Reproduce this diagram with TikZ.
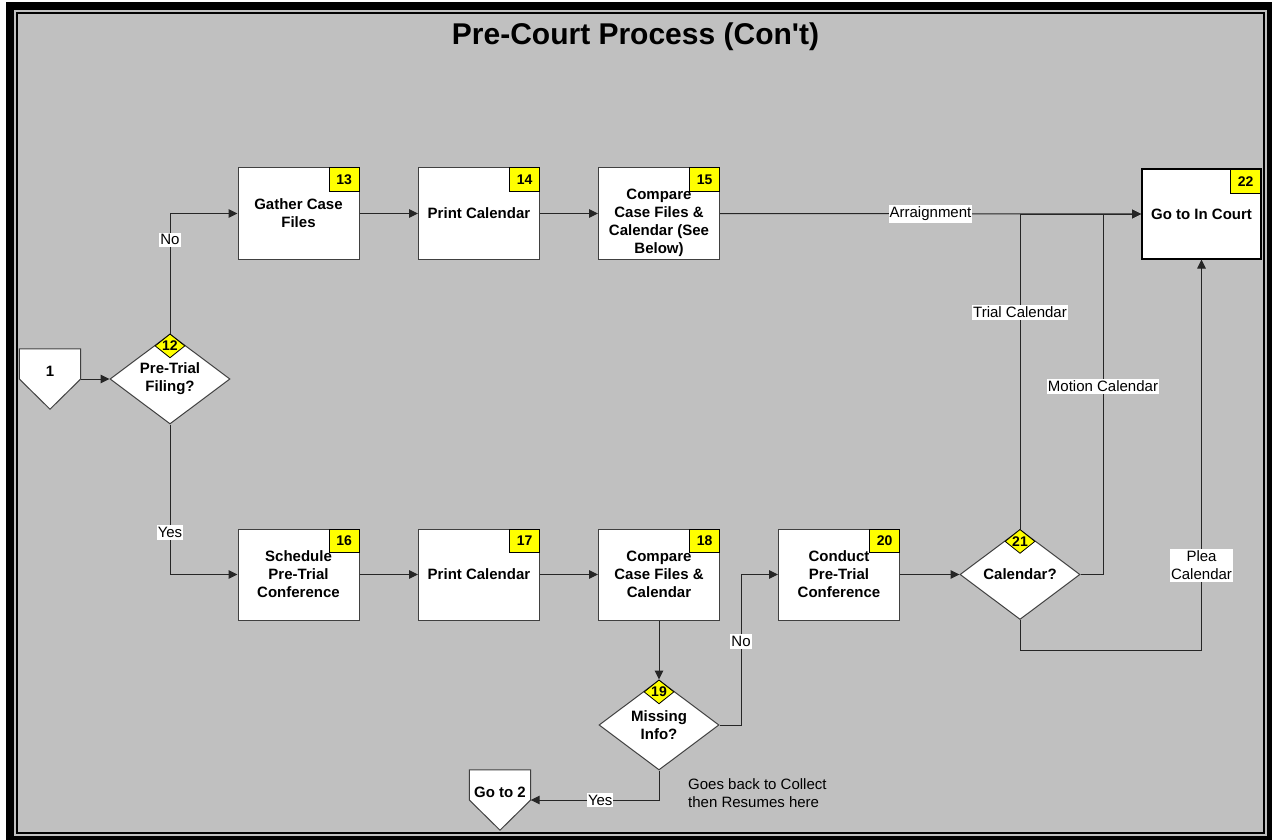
\documentclass[tikz,border=0pt]{standalone}
\usepackage{fontspec}
\setmainfont{Liberation Sans}
\usetikzlibrary{arrows.meta,shapes.geometric,calc}
\pgfdeclarelayer{back}
\pgfdeclarelayer{mid}
\pgfsetlayers{back,mid,main}

\definecolor{panel}{HTML}{C0C0C0}
\definecolor{badge}{HTML}{FFFF00}
\definecolor{edge}{HTML}{404040}

\newcommand\fBox{\fontsize{15}{18}\selectfont\bfseries}
\newcommand\fTag{\fontsize{14}{16}\selectfont\bfseries}
\newcommand\fLbl{\fontsize{15}{18}\selectfont}
\newcommand\fNote{\fontsize{15}{17.5}\selectfont}
\newcommand\fTitle{\fontsize{30}{34}\selectfont\bfseries}

\begin{document}
\begin{tikzpicture}[x=1pt,y=-1pt,
  box/.style={draw=edge, line width=1pt, fill=white, minimum width=121pt,
    minimum height=91pt, inner sep=0pt, align=center, font=\fBox},
  goal/.style={box, draw=black, line width=2pt, minimum width=119pt, minimum height=89pt},
  btext/.style={inner sep=0pt, align=center, font=\fBox},
  tag/.style={draw=black, line width=0.8pt, fill=badge, minimum width=30pt,
    minimum height=23pt, inner sep=0pt, font=\fTag, anchor=north east},
  dec/.style={diamond, shape aspect=1.333, draw=edge, line width=1pt, fill=white,
    minimum width=120pt, minimum height=90pt, inner sep=0pt, align=center, font=\fBox},
  dtag/.style={diamond, shape aspect=1.25, draw=black, line width=0.8pt, fill=badge,
    minimum width=30pt, minimum height=24pt, inner sep=0pt, font=\fTag, anchor=north},
  offp/.style={minimum width=61pt, minimum height=60pt, inner sep=0pt, font=\fBox,
    text height=11pt, text depth=17pt},
  pent/.style={draw=edge, line width=1pt, fill=white},
  arr/.style={draw=black!85, line width=1pt, -{Triangle[length=9pt,width=8.5pt]}},
  lbl/.style={fill=white, inner xsep=1pt, inner ysep=2pt, align=center, font=\fLbl, text=black}
]
\useasboundingbox (0,0) rectangle (1272,840);

% frame and panel
\begin{pgfonlayer}{back}
  \fill[white] (0,0) rectangle (1272,840);
  \fill[black] (6,2) rectangle (1272,840);
  \fill[panel] (14,10) rectangle (1267,836);
  \draw[black, line width=2pt] (17,13) rectangle (1264,833);
\end{pgfonlayer}

\node[font=\fTitle] (title) at (635.5,37) {Pre-Court Process (Con\textquotesingle t)};

% off-page connectors
\node[offp] (o1) at (50,379) {1};
\node[offp] (g2) at (500,800) {Go to 2};
\begin{pgfonlayer}{mid}
  \draw[pent] (o1.north west) -- (o1.north east) -- (o1.east) -- (o1.south) -- (o1.west) -- cycle;
  \draw[pent] (g2.north west) -- (g2.north east) -- (g2.east) -- (g2.south) -- (g2.west) -- cycle;
\end{pgfonlayer}

% decisions
\node[dec] (d12) at (170,379) {Pre-Trial\\Filing?};
\node[dtag] (k12) at (d12.north) {12};
\node[dec] (d19) at (659,725) {Missing\\Info?};
\node[dtag] (k19) at (d19.north) {19};
\node[dec] (d21) at (1020,574.5) {Calendar?};
\node[dtag] (k21) at (d21.north) {21};

% upper row
\node[box] (b13) at (298.5,213.5) {Gather Case\\Files};
\node[tag] (k13) at (b13.north east) {13};
\node[box] (b14) at (479,213.5) {Print Calendar};
\node[tag] (k14) at (b14.north east) {14};
\node[box] (b15) at (659,213.5) {};
\node[btext] (t15) at ([yshift=-9pt]b15.center) {Compare\\Case Files \&\\Calendar (See\\Below)};
\node[tag] (k15) at (b15.north east) {15};
\node[goal] (b22) at (1201.5,214) {Go to In Court};
\node[tag, line width=0.8pt] (k22) at ([xshift=-1pt,yshift=-1pt]b22.north east) {22};

% lower row
\node[box] (b16) at (298.5,574.5) {Schedule\\Pre-Trial\\Conference};
\node[tag] (k16) at (b16.north east) {16};
\node[box] (b17) at (479,574.5) {Print Calendar};
\node[tag] (k17) at (b17.north east) {17};
\node[box] (b18) at (659,574.5) {Compare\\Case Files \&\\Calendar};
\node[tag] (k18) at (b18.north east) {18};
\node[box] (b20) at (839,574.5) {Conduct\\Pre-Trial\\Conference};
\node[tag] (k20) at (b20.north east) {20};

% bend points
\coordinate (n19) at (d19.east -| 741,0);
\coordinate (m21) at (d21.east -| 1103,0);
\coordinate (p21) at (d21.south |- 0,650);
\coordinate (q21) at (b22.south |- 0,650);

% connectors
\draw[arr] (o1.east) -- (d12.west);
\draw[arr] (d12.north) |- node[lbl, pos=0.39] {No} (b13.west);
\draw[arr] (d12.south) |- node[lbl, pos=0.36] {Yes} (b16.west);
\draw[arr] (b13.east) -- (b14.west);
\draw[arr] (b14.east) -- (b15.west);
\draw[arr] (b15.east) -- node[lbl] {Arraignment} (b22.west);
\draw[arr] (b16.east) -- (b17.west);
\draw[arr] (b17.east) -- (b18.west);
\draw[arr] (b18.south) -- (d19.north);
\draw[arr] (d19.east) -- (n19) |- node[lbl, pos=0.277] {No} (b20.west);
\draw[arr] (d19.south) |- node[lbl, pos=0.729] {Yes} (g2.east);
\draw[arr] (b20.east) -- (d21.west);
\draw[arr] (d21.north) |- node[lbl, pos=0.344] {Trial Calendar} (b22.west);
\draw[arr] (d21.east) -- (m21) |- node[lbl, pos=0.261] {Motion Calendar} (b22.west);
\draw[arr] (d21.south) -- (p21) -- (q21) -- node[lbl, pos=0.217] {Plea\\Calendar} (b22.south);

\node[font=\fNote, align=left, anchor=west, inner sep=0pt] (note) at (688,793)
  {Goes back to Collect\\then Resumes here};
\end{tikzpicture}
\end{document}
